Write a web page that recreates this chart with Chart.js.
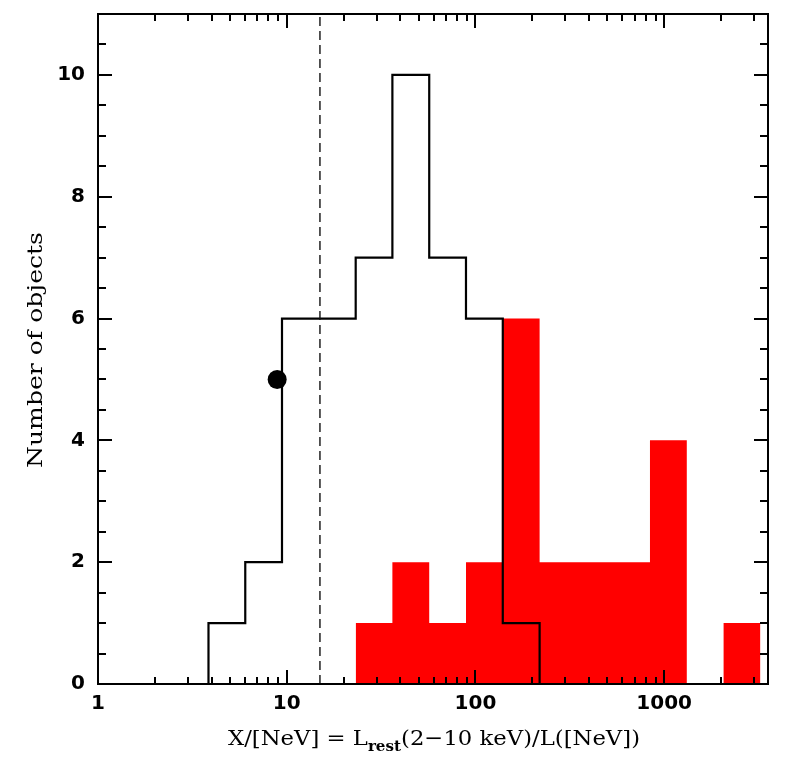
<!DOCTYPE html>
<html><head><meta charset="utf-8">
<script src="https://cdn.jsdelivr.net/npm/chart.js@4.4.1/dist/chart.umd.min.js"></script>
<style>html,body{margin:0;padding:0;background:#fff}#wrap{width:790px;height:760px}</style>
</head><body><div id="wrap"><canvas id="c" width="790" height="760"></canvas></div>
<script>
// Histogram bin edges (X/[NeV])
const binEdges = [3.85, 6.03, 9.44, 14.8, 23.2, 36.3, 56.9, 89.1, 139.6, 218.8, 342.8, 537, 841, 1318, 2065, 3236];
// whole sample (black outline), bins 0..8
const allCounts = [1, 2, 6, 6, 7, 10, 7, 6, 1];
// red filled sub-sample, bins 4..14
const redStartBin = 4;
const redCounts = [1, 2, 1, 2, 6, 2, 2, 2, 4, 0, 1];
// dashed threshold and single marker
const thresholdX = 15;
const markerX = [8.9];
const markerY = [5];
// axes
const xTickLabels = [1, 10, 100, 1000];
const yTickLabels = [0, 2, 4, 6, 8, 10];
const xRange = [1, 3550];
const yRange = [0, 11];

function histPoints(edges, counts, start) {
  const pts = [{x: edges[start], y: 0}];
  counts.forEach((c, i) => pts.push({x: edges[start + i], y: c}));
  pts.push({x: edges[start + counts.length], y: 0});
  return pts;
}

const tickFont = {family: 'DejaVu Sans', weight: 'bold', size: 20};

function zeroPad(s) { s.paddingTop = 0; s.paddingBottom = 0; s.paddingLeft = 0; s.paddingRight = 0; }

const framePlugin = {
  id: 'frame',
  afterDraw(chart) {
    const ctx = chart.ctx, a = chart.chartArea;
    const xs = chart.scales.x, ys = chart.scales.y;
    ctx.save();
    ctx.strokeStyle = '#000';
    ctx.lineWidth = 2;
    ctx.lineCap = 'butt';
    ctx.beginPath();
    for (let k = 0; k <= 3; k++) {
      for (let m = 1; m <= 9; m++) {
        const v = m * Math.pow(10, k);
        if (v <= xRange[0] || v >= xRange[1]) continue;
        const px = Math.round(xs.getPixelForValue(v));
        const len = m === 1 ? 14 : 7;
        ctx.moveTo(px, a.bottom); ctx.lineTo(px, a.bottom - len);
        ctx.moveTo(px, a.top); ctx.lineTo(px, a.top + len);
      }
    }
    for (let i = 1; i < yRange[1] * 2; i++) {
      const v = i / 2;
      const py = Math.round(ys.getPixelForValue(v));
      const len = (v % 2 === 0) ? 14 : 8;
      ctx.moveTo(a.left, py); ctx.lineTo(a.left + len, py);
      ctx.moveTo(a.right, py); ctx.lineTo(a.right - len, py);
    }
    ctx.stroke();
    ctx.strokeRect(a.left, a.top, a.right - a.left, a.bottom - a.top);

    ctx.fillStyle = '#000';
    ctx.save();
    ctx.translate(37, 350);
    ctx.rotate(-Math.PI / 2);
    ctx.font = '20px "DejaVu Serif"';
    const yt = 'Number of objects';
    const wy = ctx.measureText(yt).width;
    ctx.scale(236 / wy, 1);
    ctx.textAlign = 'center';
    ctx.textBaseline = 'middle';
    ctx.fillText(yt, 0, 0);
    ctx.restore();

    const p1 = 'X/[NeV] = L', sub = 'rest', p2 = '(2\u221210 keV)/L([NeV])';
    const mainF = '21px "DejaVu Serif"', subF = 'bold 14px "DejaVu Serif"';
    ctx.font = mainF; const w1 = ctx.measureText(p1).width, w3 = ctx.measureText(p2).width;
    ctx.font = subF; const w2 = ctx.measureText(sub).width;
    const sx = 412 / (w1 + w2 + w3);
    ctx.save();
    ctx.translate(228, 745);
    ctx.scale(sx, 1);
    ctx.textAlign = 'left';
    ctx.textBaseline = 'alphabetic';
    ctx.font = mainF; ctx.fillText(p1, 0, 0);
    ctx.font = subF; ctx.fillText(sub, w1, 6);
    ctx.font = mainF; ctx.fillText(p2, w1 + w2, 0);
    ctx.restore();
    ctx.restore();
  }
};

new Chart(document.getElementById('c'), {
  type: 'line',
  data: {
    datasets: [
      {
        label: 'marker',
        data: markerX.map((x, i) => ({x: x, y: markerY[i]})),
        showLine: false,
        pointRadius: 9.5,
        pointBackgroundColor: '#000',
        pointBorderWidth: 0,
        order: 0
      },
      {
        label: 'threshold',
        data: [{x: thresholdX, y: yRange[0]}, {x: thresholdX, y: yRange[1]}],
        borderColor: '#111',
        borderWidth: 1.4,
        borderDash: [9, 5],
        pointRadius: 0,
        fill: false,
        order: 1
      },
      {
        label: 'all',
        data: histPoints(binEdges, allCounts, 0),
        stepped: 'before',
        borderColor: '#000',
        borderWidth: 2.2,
        borderJoinStyle: 'miter',
        pointRadius: 0,
        fill: false,
        order: 2
      },
      {
        label: 'red',
        data: histPoints(binEdges, redCounts, redStartBin),
        stepped: 'before',
        borderColor: 'rgba(0,0,0,0)',
        borderWidth: 0,
        backgroundColor: '#ff0000',
        pointRadius: 0,
        fill: 'origin',
        order: 3
      }
    ]
  },
  options: {
    responsive: false,
    animation: false,
    devicePixelRatio: 1,
    layout: {padding: {top: 14, right: 22, left: 0, bottom: 0}},
    plugins: {legend: {display: false}, tooltip: {enabled: false}},
    scales: {
      x: {
        type: 'logarithmic',
        min: xRange[0], max: xRange[1],
        grid: {display: false, drawTicks: false, tickLength: 0},
        border: {display: false},
        afterBuildTicks: s => { s.ticks = xTickLabels.map(v => ({value: v})); },
        afterFit: s => { s.height = 76; zeroPad(s); },
        ticks: {autoSkip: false, maxRotation: 0, minRotation: 0, padding: 8, color: '#000', font: tickFont,
                callback: v => String(v)}
      },
      y: {
        type: 'linear',
        min: yRange[0], max: yRange[1],
        grid: {display: false, drawTicks: false, tickLength: 0},
        border: {display: false},
        afterBuildTicks: s => { s.ticks = yTickLabels.map(v => ({value: v})); },
        afterFit: s => { s.width = 98; zeroPad(s); },
        ticks: {autoSkip: false, padding: 13, color: '#000', font: tickFont, callback: v => String(v)}
      }
    }
  },
  plugins: [framePlugin]
});
</script></body></html>
